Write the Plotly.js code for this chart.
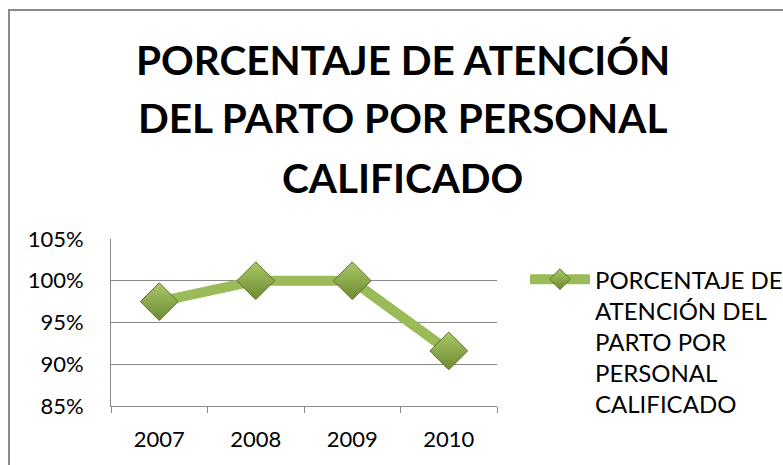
<!DOCTYPE html>
<html>
<head>
<meta charset="utf-8">
<script src="https://cdn.plot.ly/plotly-3.0.1.min.js"></script>
<style>
  html, body { margin: 0; padding: 0; background: #ffffff; }
  #wrap { position: relative; width: 783px; height: 465px; overflow: hidden; }
  #frame { position: absolute; left: 8px; top: 9px; width: 800px; height: 480px;
           border-left: 2px solid #8a8a8a; border-top: 2px solid #8a8a8a; }
  #chart { position: absolute; left: 0; top: 0; width: 783px; height: 465px; }
</style>
</head>
<body>
<div id="wrap">
  <div id="frame"></div>
  <div id="chart"></div>
</div>
<script>
const years = ["2007", "2008", "2009", "2010"];
const values = [0.975, 1.00, 1.00, 0.916];
const seriesName = "PORCENTAJE DE<br>ATENCIÓN DEL<br>PARTO POR<br>PERSONAL<br>CALIFICADO";
const titleLines = ["PORCENTAJE DE ATENCIÓN", "DEL PARTO POR PERSONAL", "CALIFICADO"];
const yTicks = [0.85, 0.90, 0.95, 1.00, 1.05];
const yTickLabels = ["85%", "90%", "95%", "100%", "105%"];

const font = "Lato, 'Open Sans', sans-serif";

const trace = {
  type: "scatter",
  mode: "lines+markers",
  x: years,
  y: values,
  name: seriesName,
  line: { color: "#9BBB59", width: 10 },
  marker: {
    symbol: "diamond",
    size: 29,
    color: "#a9c96a",
    gradient: { type: "vertical", color: "#6d8a2e" },
    line: { color: "#5a7327", width: 1 }
  }
};

const titleY = [2.072, 1.725, 1.371];
const annotations = titleLines.map((t, i) => ({
  text: t,
  xref: "paper", yref: "paper",
  x: 0.756, y: titleY[i],
  xanchor: "center", yanchor: "middle",
  showarrow: false,
  font: { family: font, size: 40.5, color: "#000000", weight: "bold" }
}));

const layout = {
  width: 783,
  height: 465,
  paper_bgcolor: "rgba(0,0,0,0)",
  plot_bgcolor: "rgba(0,0,0,0)",
  margin: { l: 111, r: 286, t: 239, b: 59, autoexpand: false },
  showlegend: true,
  annotations: annotations,
  xaxis: {
    type: "category",
    range: [-0.5, 3.5],
    tickson: "boundaries",
    ticks: "outside",
    ticklen: 6,
    tickcolor: "#8a8a8a",
    showline: true,
    linecolor: "#8a8a8a",
    linewidth: 1,
    showgrid: false,
    ticklabelstandoff: 14,
    tickfont: { family: font, size: 22, color: "#000000" },
    fixedrange: true
  },
  yaxis: {
    range: [0.85, 1.05],
    tickvals: yTicks,
    ticktext: yTickLabels,
    showline: true,
    linecolor: "#8a8a8a",
    linewidth: 1,
    showgrid: true,
    gridcolor: "#8a8a8a",
    gridwidth: 1,
    zeroline: false,
    ticks: "",
    ticklabelstandoff: 22,
    tickfont: { family: font, size: 22, color: "#000000" },
    fixedrange: true
  },
  legend: {
    x: 1.0725, xanchor: "left",
    y: 0.892, yanchor: "top",
    valign: "top",
    font: { family: font, size: 24, color: "#000000" },
    bgcolor: "rgba(0,0,0,0)",
    itemwidth: 60
  }
};

Plotly.newPlot("chart", [trace], layout, { displayModeBar: false, staticPlot: true });
</script>
</body>
</html>
